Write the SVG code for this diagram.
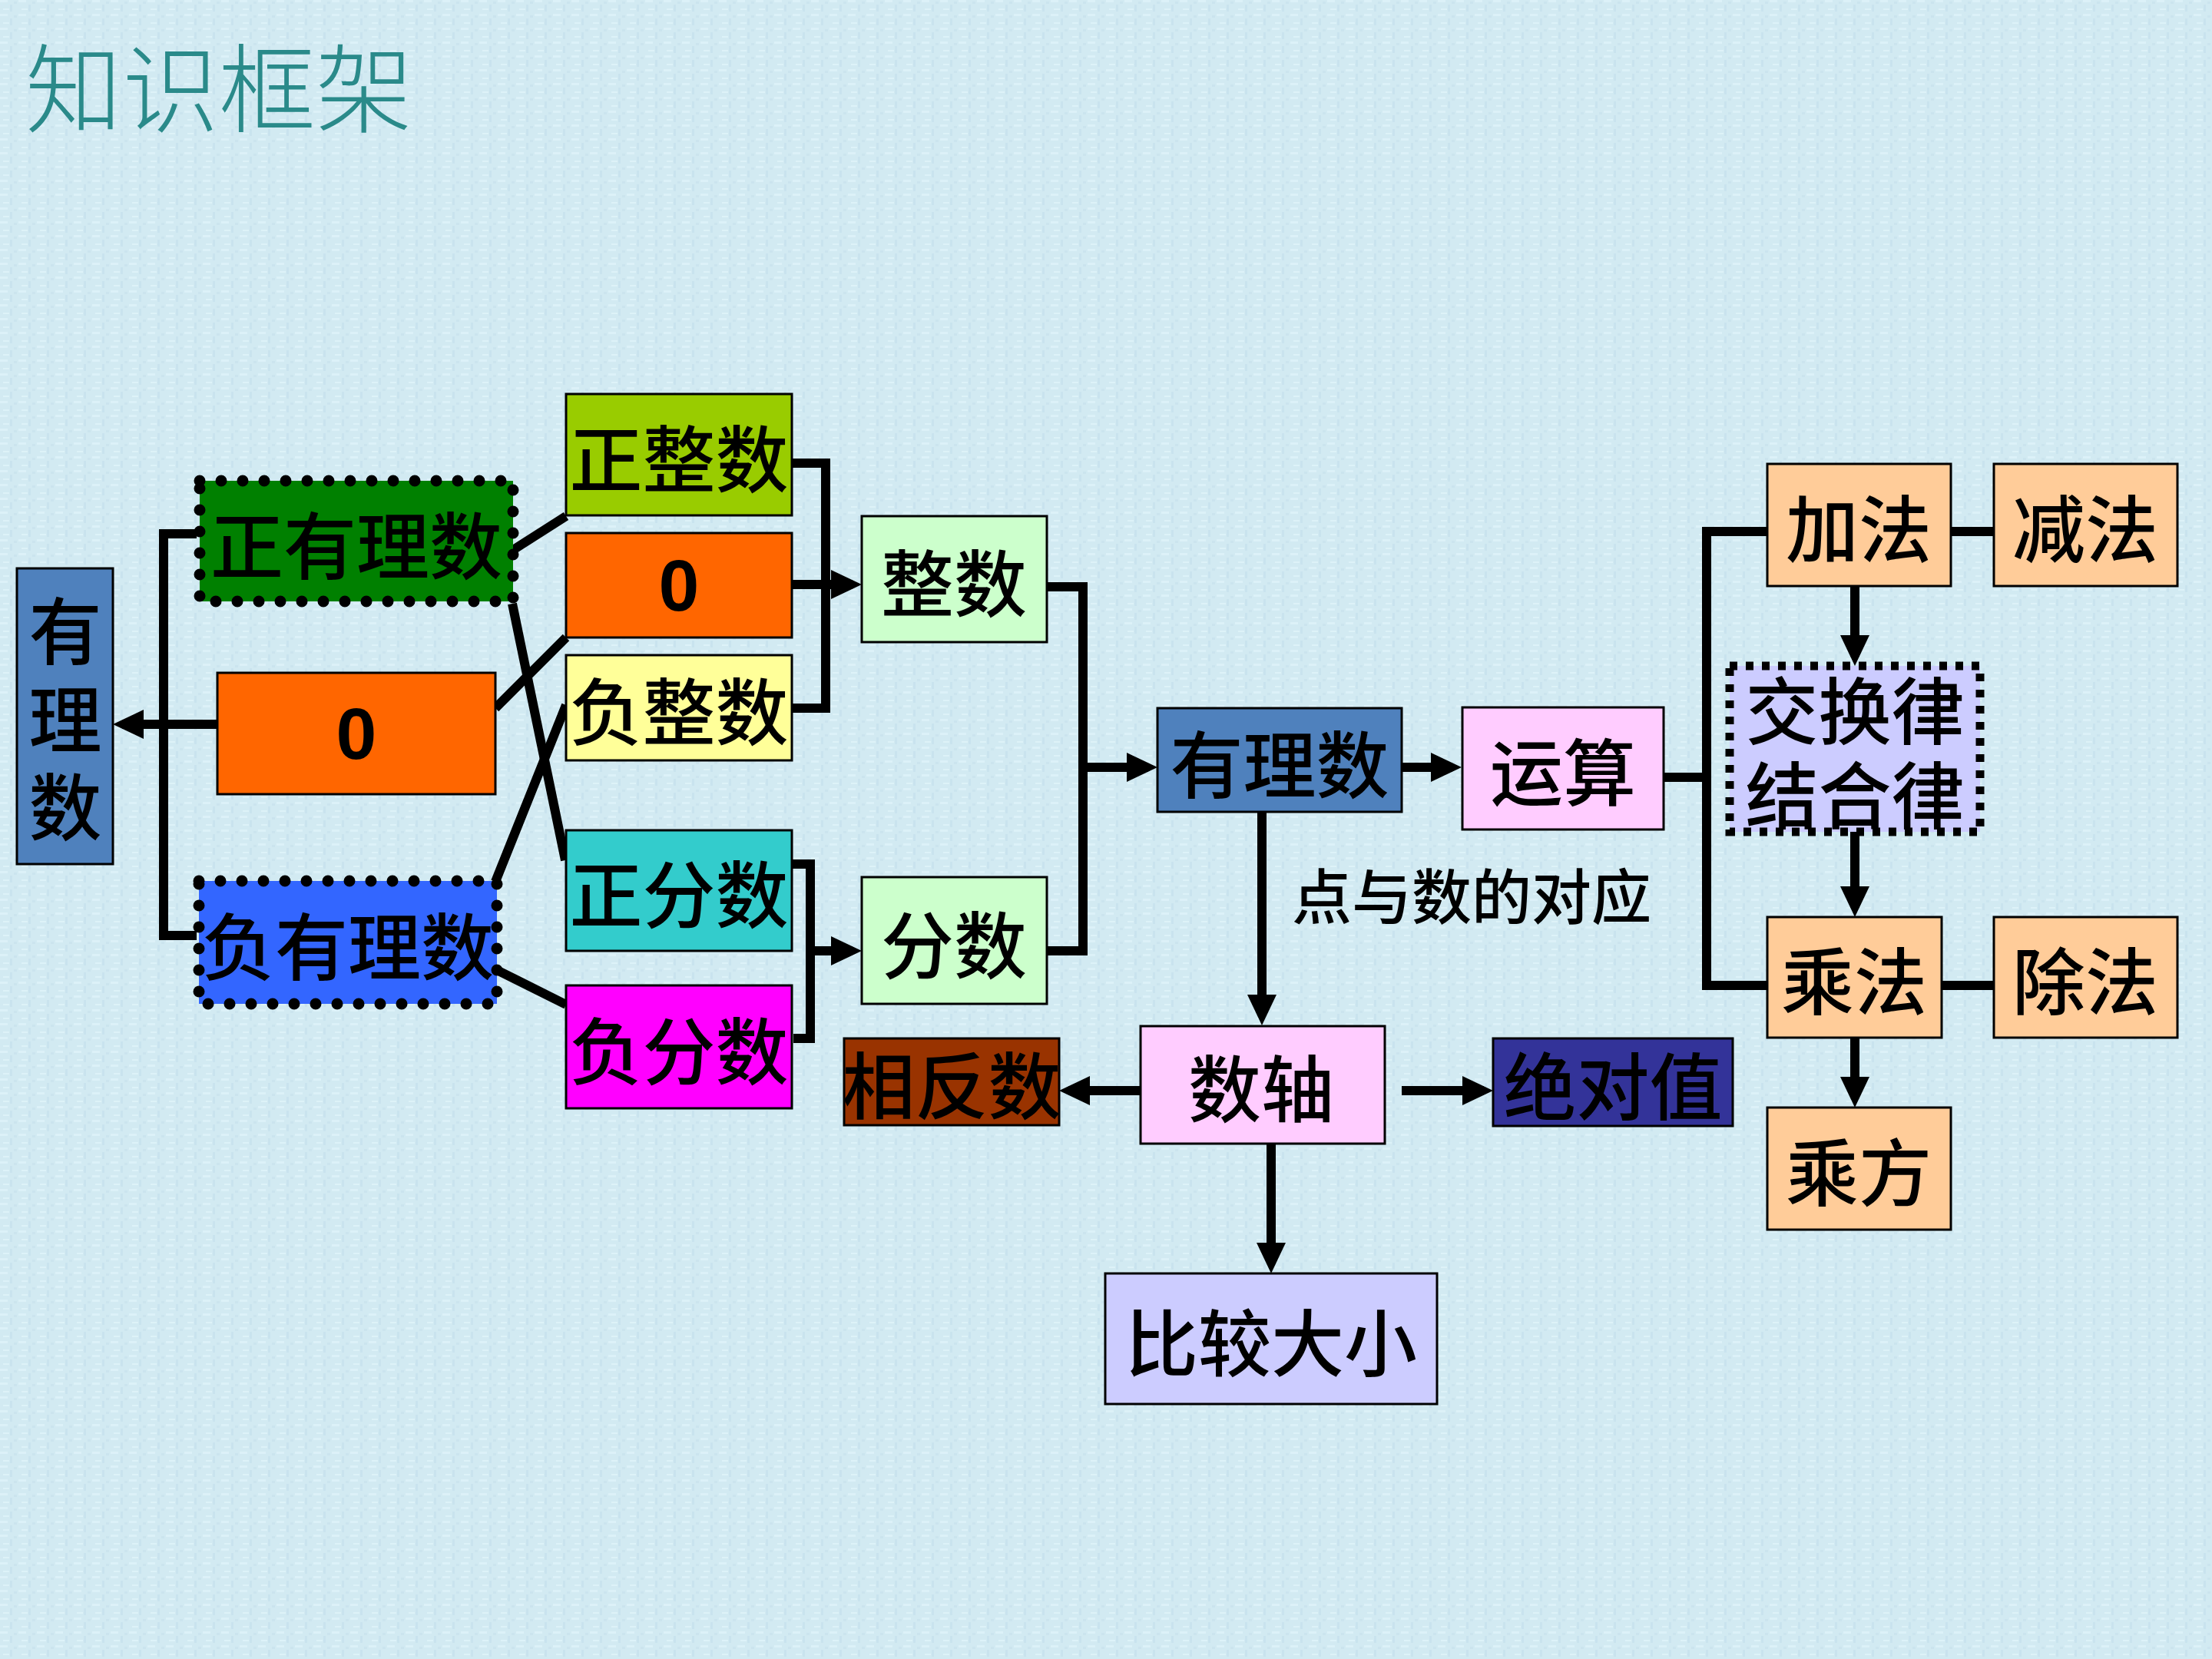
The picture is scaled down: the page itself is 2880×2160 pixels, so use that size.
<svg xmlns="http://www.w3.org/2000/svg" width="2880" height="2160" viewBox="0 0 2880 2160">
<style>
.box{stroke:#000;stroke-width:3}
.dot{fill:none;stroke:#000;stroke-width:15;stroke-dasharray:0 28;stroke-linecap:round}
.dash{fill:none;stroke:#000;stroke-width:11;stroke-dasharray:10 11}
.t{font-family:"Noto Sans CJK SC","Liberation Sans",sans-serif;font-size:95px;font-weight:500;fill:#000;text-anchor:middle;dominant-baseline:central}
.z{font-family:"Liberation Sans",Arial,sans-serif;font-size:95px;font-weight:bold;fill:#000;text-anchor:middle;dominant-baseline:central}
.c{fill:none;stroke:#000;stroke-width:12;stroke-linejoin:miter}
.a{marker-end:url(#ah)}
</style>
<defs>
<marker id="ah" markerUnits="userSpaceOnUse" markerWidth="40" markerHeight="38" refX="28" refY="19" orient="auto" viewBox="0 0 40 38">
<path d="M0,0 L40,19 L0,38 z" fill="#000"/>
</marker>
<pattern id="bg" width="24" height="18" patternUnits="userSpaceOnUse">
<rect width="24" height="18" fill="#d2eaf2"/>
<rect x="0" y="0" width="10" height="3" fill="#dcf1f8"/>
<rect x="13" y="6" width="3" height="9" fill="#c9e3ee"/>
<rect x="4" y="11" width="8" height="2" fill="#ddf2f8"/>
<rect x="18" y="2" width="4" height="3" fill="#cbe4ee"/>
</pattern>
</defs>
<rect width="2880" height="2160" fill="url(#bg)"/>
<text x="33" y="108" style="font-family:'Noto Sans CJK SC',sans-serif;font-size:126px;font-weight:300;fill:#2a8a8a;dominant-baseline:central">知识框架</text>

<g id="connectors">
<path class="c" d="M256,695 H213 V1218 H256"/>
<path class="c a" d="M283,943 H159"/>
<path class="c" d="M668,716 L737,672"/>
<path class="c" d="M667,786 L736,1120"/>
<path class="c" d="M645,922 L737,830"/>
<path class="c" d="M645,1148 L737,918"/>
<path class="c" d="M647,1263 L737,1308"/>
<path class="c" d="M1031,603 H1075 V922 H1031"/>
<path class="c a" d="M1031,761 H1110"/>
<path class="c" d="M1031,1125 H1055 V1352 H1033"/>
<path class="c a" d="M1055,1238 H1110"/>
<path class="c" d="M1363,764 H1410 V1238 H1363"/>
<path class="c a" d="M1410,999 H1495"/>
<path class="c a" d="M1825,999 H1891"/>
<path class="c" d="M2166,1012 H2222"/>
<path class="c" d="M2301,692 H2222 V1283 H2301"/>
<path class="c" d="M2540,692 H2596"/>
<path class="c" d="M2528,1283 H2596"/>
<path class="c a" d="M2415,763 V855"/>
<path class="c a" d="M2415,1083 V1182"/>
<path class="c a" d="M2415,1351 V1430"/>
<path class="c a" d="M1643,1057 V1323"/>
<path class="c a" d="M1485,1420 H1391"/>
<path class="c a" d="M1825,1420 H1932"/>
<path class="c a" d="M1655,1489 V1646"/>
</g>

<g id="n-youlishu-left"><rect class="box" x="22" y="740" width="125" height="385" fill="#4f81bd"/>
<text class="t" x="85" y="816">有<tspan x="85" dy="115">理</tspan><tspan x="85" dy="114">数</tspan></text></g>
<g id="n-zhengyoulishu"><rect x="260" y="626" width="408" height="157" fill="#008000"/><rect class="dot" x="260" y="626" width="408" height="157"/>
<text class="t" x="464" y="705">正有理数</text></g>
<g id="n-zero-left"><rect class="box" x="283" y="876" width="362" height="158" fill="#ff6600"/><text class="z" x="464" y="955">0</text></g>
<g id="n-fuyoulishu"><rect x="259" y="1147" width="388" height="160" fill="#3366ff"/><rect class="dot" x="259" y="1147" width="388" height="160"/>
<text class="t" x="453" y="1227">负有理数</text></g>
<g id="n-zhengzhengshu"><rect class="box" x="737" y="513" width="294" height="158" fill="#99cc00"/><text class="t" x="884" y="592">正整数</text></g>
<g id="n-zero-mid"><rect class="box" x="737" y="694" width="294" height="136" fill="#ff6600"/><text class="z" x="884" y="762">0</text></g>
<g id="n-fuzhengshu"><rect class="box" x="737" y="853" width="294" height="137" fill="#ffff99"/><text class="t" x="884" y="921">负整数</text></g>
<g id="n-zhengfenshu"><rect class="box" x="737" y="1081" width="294" height="157" fill="#33cccc"/><text class="t" x="884" y="1159">正分数</text></g>
<g id="n-fufenshu"><rect class="box" x="737" y="1283" width="294" height="160" fill="#ff00ff"/><text class="t" x="884" y="1363">负分数</text></g>
<g id="n-zhengshu"><rect class="box" x="1122" y="672" width="241" height="164" fill="#ccffcc"/><text class="t" x="1242" y="754">整数</text></g>
<g id="n-fenshu"><rect class="box" x="1122" y="1142" width="241" height="165" fill="#ccffcc"/><text class="t" x="1242" y="1225">分数</text></g>
<g id="n-youlishu"><rect class="box" x="1507" y="922" width="318" height="135" fill="#4f81bd"/><text class="t" x="1666" y="990">有理数</text></g>
<g id="n-yunsuan"><rect class="box" x="1904" y="921" width="262" height="159" fill="#ffccff"/><text class="t" x="2035" y="1000">运算</text></g>
<g id="n-shuzhou"><rect class="box" x="1485" y="1336" width="318" height="153" fill="#ffccff"/><text class="t" x="1642" y="1412">数轴</text></g>
<g id="n-xiangfanshu"><rect class="box" x="1099" y="1352" width="280" height="113" fill="#993300"/><text class="t" x="1239" y="1408">相反数</text></g>
<g id="n-jueduizhi"><rect class="box" x="1944" y="1352" width="312" height="114" fill="#333399"/><text class="t" x="2100" y="1409">绝对值</text></g>
<g id="n-bijiaodaxiao"><rect class="box" x="1439" y="1658" width="432" height="170" fill="#ccccff"/><text class="t" x="1655" y="1743">比较大小</text></g>
<g id="n-jiafa"><rect class="box" x="2301" y="604" width="239" height="159" fill="#ffcc99"/><text class="t" x="2420" y="683">加法</text></g>
<g id="n-jianfa"><rect class="box" x="2596" y="604" width="239" height="159" fill="#ffcc99"/><text class="t" x="2715" y="683">减法</text></g>
<g id="n-lv"><rect x="2252" y="867" width="326" height="216" fill="#ccccff"/><rect class="dash" x="2252" y="867" width="326" height="216"/>
<text class="t" x="2415" y="920">交换律<tspan x="2415" dy="110">结合律</tspan></text></g>
<g id="n-chengfa"><rect class="box" x="2301" y="1194" width="227" height="157" fill="#ffcc99"/><text class="t" x="2414" y="1272">乘法</text></g>
<g id="n-chufa"><rect class="box" x="2596" y="1194" width="239" height="157" fill="#ffcc99"/><text class="t" x="2715" y="1272">除法</text></g>
<g id="n-chengfang"><rect class="box" x="2301" y="1442" width="239" height="159" fill="#ffcc99"/><text class="t" x="2420" y="1521">乘方</text></g>
<text x="1916" y="1163" style="font-family:'Noto Sans CJK SC',sans-serif;font-size:78px;font-weight:500;fill:#000;text-anchor:middle;dominant-baseline:central">点与数的对应</text>
</svg>
